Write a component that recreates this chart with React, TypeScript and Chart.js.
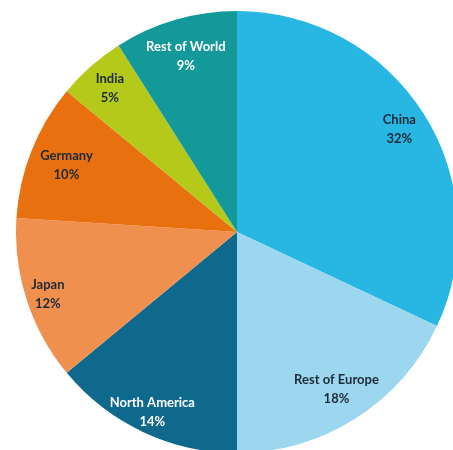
import React, { useEffect, useRef } from "react";
import { Chart, registerables } from "chart.js";

Chart.register(...registerables);

const categories = ["China", "Rest of Europe", "North America", "Japan", "Germany", "India", "Rest of World"];
const shares = [32, 18, 14, 12, 10, 5, 9];
const sliceColors = ["#28b6e3", "#9dd7ef", "#0f698d", "#f0904e", "#e8700f", "#b4c91a", "#14999a"];
const labelColors = ["#1c2a36", "#1c2a36", "#ffffff", "#1c2a36", "#1c2a36", "#1c2a36", "#ffffff"];

const labelPlugin = {
  id: "sliceLabels",
  afterDatasetsDraw(chart: any, _args: any, opts: any) {
    const ctx = chart.ctx;
    const meta = chart.getDatasetMeta(0);
    const radial: number[] = opts.radial || [];
    ctx.save();
    ctx.font = "bold 13px Lato, 'Open Sans', sans-serif";
    ctx.textAlign = "center";
    ctx.textBaseline = "middle";
    meta.data.forEach((arc: any, i: number) => {
      const p = arc.getProps(["x", "y", "startAngle", "endAngle", "outerRadius"], true);
      const mid = (p.startAngle + p.endAngle) / 2;
      const r = p.outerRadius * (radial[i] ?? 0.86);
      const x = p.x + Math.cos(mid) * r;
      const y = p.y + Math.sin(mid) * r;
      ctx.fillStyle = labelColors[i];
      ctx.fillText(categories[i], x, y - 9);
      ctx.fillText(shares[i] + "%", x, y + 10);
    });
    ctx.restore();
  },
};

export default function App() {
  const ref = useRef<HTMLCanvasElement | null>(null);
  useEffect(() => {
    if (!ref.current) return;
    const chart = new Chart(ref.current, {
      type: "pie",
      data: {
        labels: categories,
        datasets: [
          {
            data: shares,
            backgroundColor: sliceColors,
            borderWidth: 0,
          },
        ],
      },
      options: {
        responsive: false,
        animation: false,
        layout: { padding: 0 },
        plugins: {
          legend: { display: false },
          tooltip: { enabled: false },
          sliceLabels: { radial: [0.87, 0.84, 0.9, 0.9, 0.83, 0.87, 0.83] },
        } as any,
      },
      plugins: [labelPlugin],
    });
    return () => chart.destroy();
  }, []);
  return (
    <div
      style={{
        position: "fixed",
        left: 0,
        top: 0,
        width: 453,
        height: 450,
        overflow: "hidden",
        background: "#ffffff",
      }}
    >
      <canvas
        ref={ref}
        width={442}
        height={442}
        style={{ position: "absolute", left: 16, top: 11, width: 442, height: 442 }}
      />
    </div>
  );
}
